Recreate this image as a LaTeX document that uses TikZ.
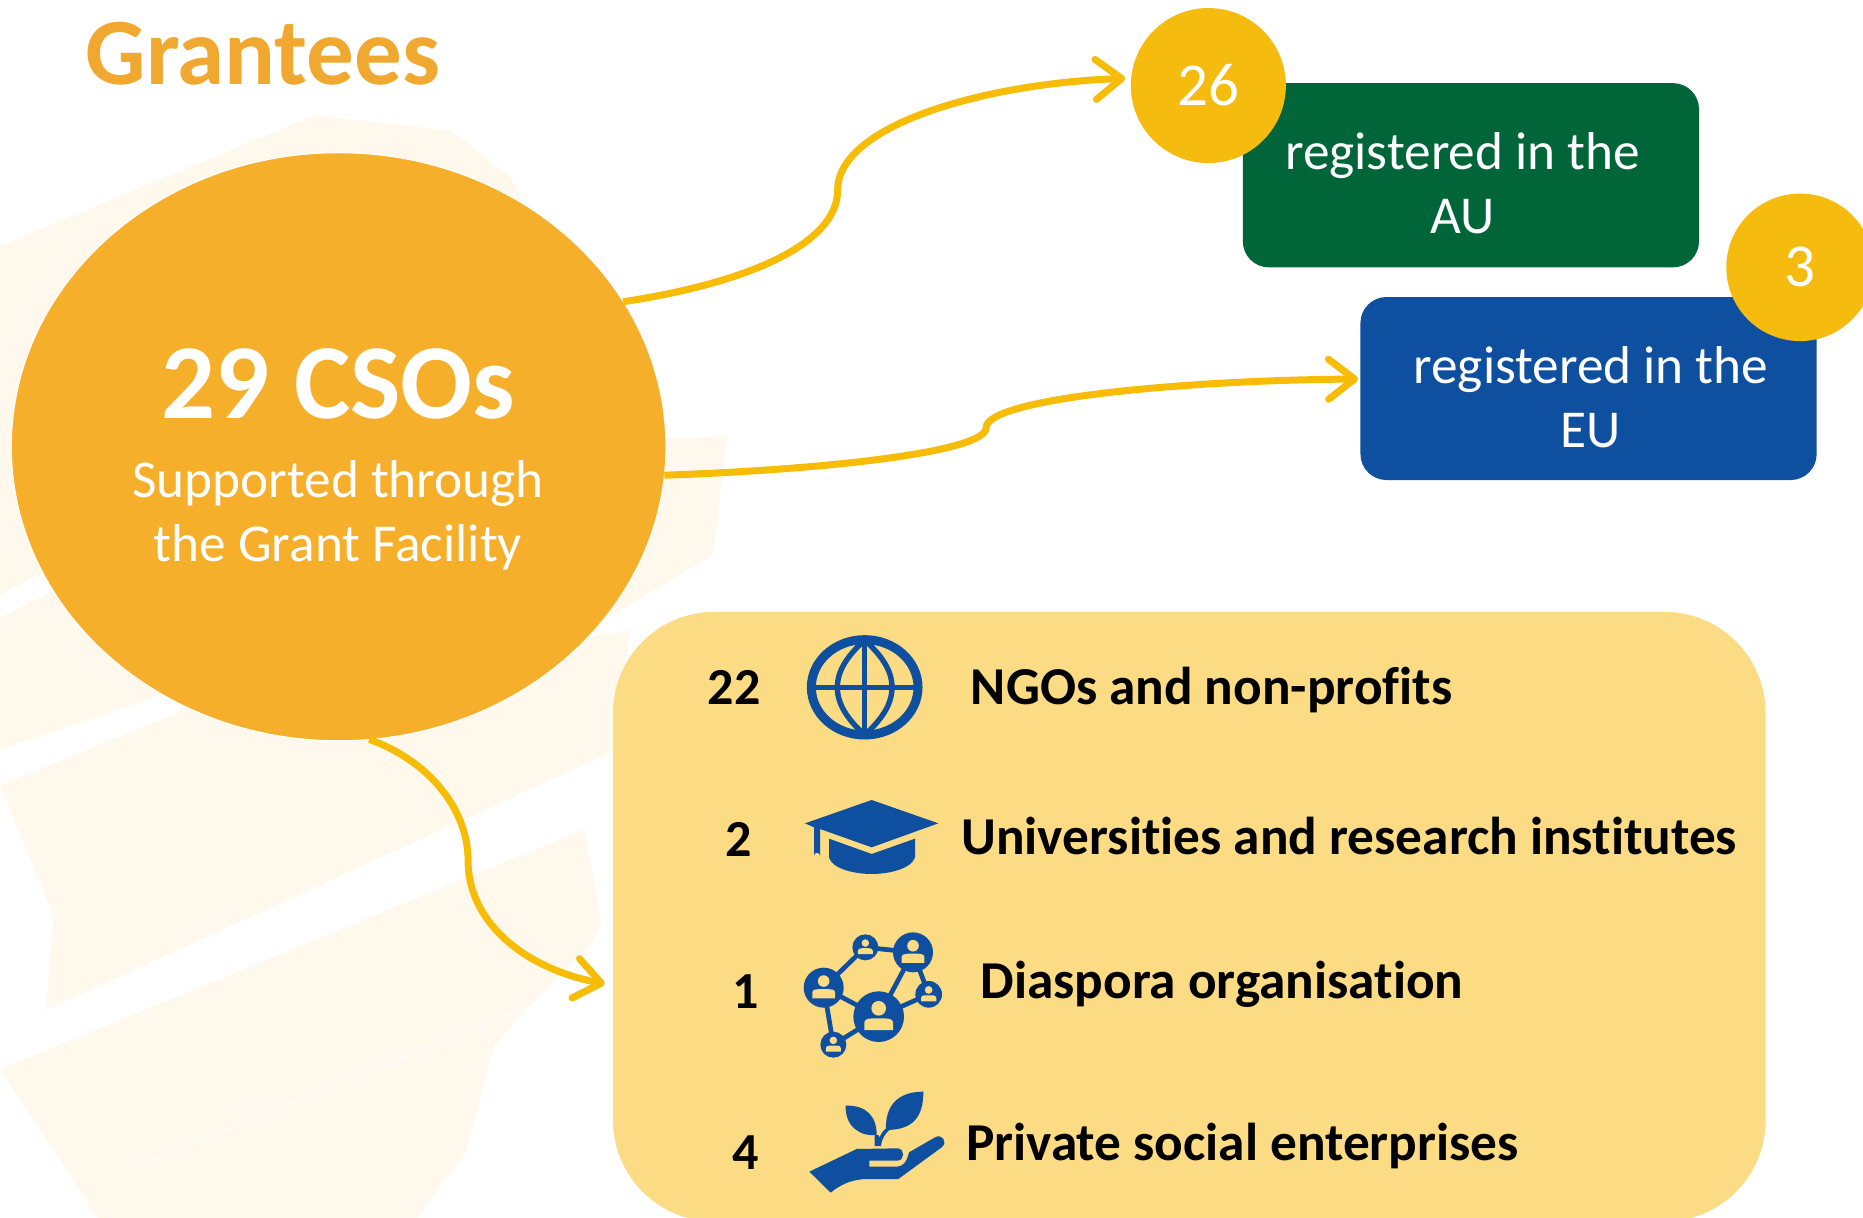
\documentclass[tikz,border=0pt]{standalone}
\usepackage{fontspec}
\setmainfont[RawFeature={-liga}]{Carlito}
\usetikzlibrary{shapes.geometric,arrows.meta}
\definecolor{cream}{HTML}{FEF9EC}
\definecolor{orangeM}{HTML}{F6AF2A}
\definecolor{titleC}{HTML}{F0A830}
\definecolor{panelC}{HTML}{FBDB84}
\definecolor{greenB}{HTML}{00663A}
\definecolor{blueB}{HTML}{0F4F9F}
\definecolor{goldC}{HTML}{F5BC0F}
\definecolor{lineC}{HTML}{F6BC06}
\tikzset{
  flow/.style={draw=lineC,line width=7pt,-{Straight Barb[length=26pt,width=40pt,line width=7pt,round]}},
  infobox/.style={rectangle,rounded corners=26pt,minimum width=456.2pt,inner sep=0pt,outer sep=0pt},
  badge/.style={circle,fill=goldC,text=white,inner sep=0pt,outer sep=0pt,font=\fontsize{61}{64}\selectfont},
  wlabel/.style={text=white,align=center,inner sep=0pt,font=\fontsize{53.3}{64}\selectfont},
  blabel/.style={text=black,inner sep=0pt,anchor=base west,font=\bfseries\fontsize{53.3}{56}\selectfont},
  num/.style={text=black,inner sep=0pt,anchor=base,font=\bfseries\fontsize{52}{56}\selectfont},
  iconframe/.style={x=0.33333pt,y=-0.33333pt}
}
\begin{document}
\begin{tikzpicture}[x=1.18814pt,y=-1.18814pt]
\useasboundingbox (0,0) rectangle (1568,1025.1);
\clip (0,0) rectangle (1568,1025.1);
\fill[white] (0,0) rectangle (1568,1025.1);
% watermark
\fill[cream] (0,207) -- (265,97) -- (380,110) -- (430,150) -- (545,370) -- (612,367) -- (600,467) -- (506,523) -- (135,585) -- (0,631) -- cycle;
\fill[cream] (0,661) -- (150,600) -- (530,530) -- (517,632) -- (39,850) -- (45,770) -- cycle;
\fill[cream] (0,900) -- (492,698) -- (506,777) -- (498,794) -- (445,847) -- (416,880) -- (392,970) -- (351,1025.1) -- (82,1025.1) -- cycle;
\draw[white,opacity=.6,line width=2pt] (122,979) -- (445,847);
\draw[white,line width=20pt] (-10,515) -- (60,480);
% main shapes
\node[ellipse,fill=orangeM,draw=white,line width=1pt,minimum width=654.5pt,minimum height=588pt,inner sep=0pt,outer sep=0pt] (cso) at (285,376) {};
\node[infobox,fill=panelC,minimum width=1152.5pt,minimum height=609.5pt,rounded corners=101pt] (panel) at (1001,771.5) {};
\node[infobox,fill=greenB,minimum height=184.2pt] (au) at (1238,147.5) {};
\node[infobox,fill=blueB,minimum height=183pt] (eu) at (1337,327) {};
\node[badge,minimum size=155pt] (n26) at (1017,72) {26};
\node[badge,minimum size=147.5pt] (n3) at (1515,225) {3};
% texts
\node[text=titleC,inner sep=0pt,anchor=base west,font=\bfseries\fontsize{95}{100}\selectfont] (title) at (72,71) {Grantees};
\node[text=white,inner sep=0pt,anchor=base,font=\bfseries\fontsize{106.5}{110}\selectfont] (count) at (285,352) {29 CSOs};
\node[wlabel] (sub) at (284.5,434) {Supported through\\the Grant Facility};
\node[wlabel] (aut) at (1231,154) {registered in the\\AU};
\node[wlabel] (eut) at (1339,334.5) {registered in the\\EU};
\node[num] (c22) at (618,593) {22};
\node[num] (c2) at (622,721) {2};
\node[num] (c1) at (628,849) {1};
\node[num] (c4) at (628,984) {4};
\node[blabel] (l1) at (817,593) {NGOs and non-profits};
\node[blabel] (l2) at (809,719) {Universities and research institutes};
\node[blabel] (l3) at (825,840) {Diaspora organisation};
\node[blabel] (l4) at (813,977) {Private social enterprises};
% connectors
\coordinate (n26in) at (947,66);
\coordinate (euin) at (1143,319);
\coordinate (panelin) at (509,828);
\draw[flow] (cso.27.3) .. controls (630,238) and (705,205) .. (705,160) .. controls (705,105) and (830,70) .. (n26in);
\draw[flow] (cso.-5) .. controls (700,395) and (830,380) .. (830,360) .. controls (830,335) and (1000,320) .. (euin);
\draw[flow] (cso.-84.9) .. controls (360,640) and (394,680) .. (394,725) .. controls (394,775) and (440,815) .. (panelin);
% globe and cap
\begin{scope}[shift={(656.5,513.4)},iconframe]
\draw[blueB,line width=9pt] (254,232) ellipse [x radius=160,y radius=143];
\draw[blueB,line width=5.4pt] (254,90) -- (254,375) (94,232) -- (414,232);
\draw[blueB,line width=5.4pt] (254,90) .. controls (205,135) and (172,180) .. (172,232) .. controls (172,285) and (205,330) .. (254,375) .. controls (303,330) and (336,285) .. (336,232) .. controls (336,180) and (303,135) .. (254,90) -- cycle;
\fill[blueB] (275,570) -- (475,640) -- (275,712) -- (120,657) -- (120,737) arc (0:-180:9) -- (102,652) -- (75,640) -- cycle;
\fill[blueB] (147,686) -- (275,732) -- (405,686) -- (405,742) .. controls (395,775) and (330,792) .. (275,792) .. controls (220,792) and (155,775) .. (147,742) -- cycle;
\end{scope}
% network and plant
\begin{scope}[shift={(656.5,765.9)},iconframe]
\draw[blueB,line width=4.7pt] (131,233) -- (256,112) -- (399,127) -- (296,320) -- (131,233) -- (160,404) -- (296,320) -- (446,253) -- (399,127);
\foreach \cx/\cy/\R in {131/233/60,256/112/39,399/127/60,446/253/40,296/320/76,160/404/39}{
  \fill[blueB] (\cx,\cy) circle [radius=\R];
  \fill[panelC] ({\cx},{\cy-.33*\R}) circle [radius={.29*\R}];
  \fill[panelC] ({\cx-.57*\R},{\cy+.53*\R}) -- ({\cx+.57*\R},{\cy+.53*\R}) -- ({\cx+.57*\R},{\cy+.25*\R}) .. controls ({\cx+.57*\R},{\cy+.1*\R}) and ({\cx+.4*\R},{\cy+.07*\R}) .. ({\cx+.25*\R},{\cy+.07*\R}) -- ({\cx-.25*\R},{\cy+.07*\R}) .. controls ({\cx-.4*\R},{\cy+.07*\R}) and ({\cx-.57*\R},{\cy+.1*\R}) .. ({\cx-.57*\R},{\cy+.25*\R}) -- cycle;
}
\fill[blueB] (197,587) .. controls (260,585) and (290,620) .. (290,675) .. controls (240,680) and (195,650) .. (197,587) -- cycle;
\fill[blueB] (430,545) .. controls (430,620) and (400,660) .. (318,660) .. controls (315,590) and (350,545) .. (430,545) -- cycle;
\fill[blueB] (284,708) -- (284,675) -- (295,675) -- (298,682) .. controls (305,668) and (315,655) .. (325,650) -- (330,658) .. controls (318,668) and (305,685) .. (303,708) -- cycle;
\fill[blueB] (88,785) -- (230,717) -- (352,715) .. controls (375,715) and (375,752) .. (352,752) -- (268,752) -- (268,770) -- (350,770) .. controls (370,770) and (380,755) .. (387,727) -- (465,682) .. controls (485,670) and (505,695) .. (485,712) -- (355,807) -- (255,807) .. controls (210,810) and (180,825) .. (152,848) -- cycle;
\end{scope}
\end{tikzpicture}
\end{document}
